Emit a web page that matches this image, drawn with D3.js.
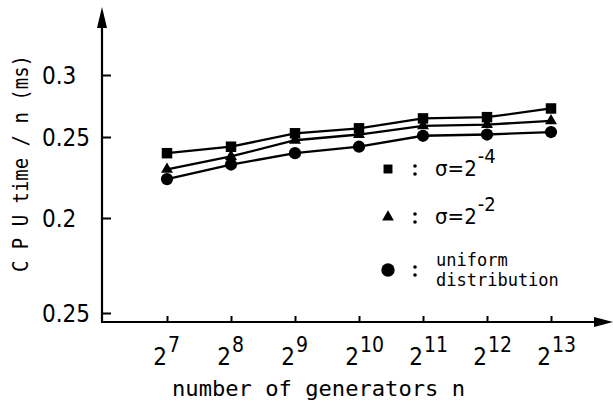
<!DOCTYPE html>
<html>
<head>
<meta charset="utf-8">
<script src="https://cdn.jsdelivr.net/npm/d3@7"></script>
<style>
  body { margin: 0; background: #fff; }
  svg { display: block; }
</style>
</head>
<body>
<svg id="chart" width="613" height="402"></svg>
<script>
// Number of generators n = 2^k
const exponents = [7, 8, 9, 10, 11, 12, 13];

// CPU time per generator (ms)
const sigma4  = [0.240, 0.244, 0.253, 0.257, 0.265, 0.266, 0.273];
const sigma2  = [0.230, 0.238, 0.248, 0.252, 0.259, 0.260, 0.263];
const uniform = [0.224, 0.233, 0.240, 0.244, 0.251, 0.252, 0.254];

// Vertical axis ticks (the lowest one sits at the axis break)
const yTickValues = [0.15, 0.2, 0.25, 0.3];
const yTickLabels = ["0.25", "0.2", "0.25", "0.3"];

// Legend entries
const legendSymbols = ["square", "triangle", "circle"];
const legendBase    = ["σ=2", "σ=2", null];
const legendExp     = ["-4", "-2", null];
const legendLines   = [null, null, ["uniform", "distribution"]];

const svg = d3.select("#chart");
const ink = "#000";
const sansC = "'DejaVu Sans Condensed', 'DejaVu Sans', sans-serif";
const mono = "'DejaVu Sans Mono', 'Liberation Mono', monospace";

const axisX0 = 102, axisY0 = 322;

const x = d3.scaleLog().base(2)
  .domain([2 ** 7, 2 ** 13])
  .range([167, 551]);

const y = d3.scaleLinear()
  .domain(yTickValues)
  .range([313, 218, 137, 75]);

const symbolType = { square: d3.symbolSquare, triangle: d3.symbolTriangle, circle: d3.symbolCircle };
const markSize = { square: 110, triangle: 62, circle: 118 };
const legendSize = { square: 80, triangle: 60, circle: 140 };

// ---- axes ----
const gx = svg.append("g").attr("transform", `translate(0,${axisY0})`)
  .call(d3.axisBottom(x).tickValues(exponents.map(e => 2 ** e)).tickSize(-6).tickFormat(""));
gx.select(".domain").remove();
gx.selectAll(".tick line").attr("stroke", ink).attr("stroke-width", 2);

const gy = svg.append("g").attr("transform", `translate(${axisX0},0)`)
  .call(d3.axisLeft(y).tickValues(yTickValues).tickSize(-9)
    .tickFormat((d, i) => yTickLabels[i]));
gy.select(".domain").remove();
gy.selectAll(".tick line").attr("stroke", ink).attr("stroke-width", 2);
gy.selectAll(".tick text")
  .attr("x", 42 - axisX0)
  .attr("dy", "0.36em")
  .attr("text-anchor", "start")
  .attr("fill", ink)
  .style("font-family", sansC)
  .style("font-size", "24px");

// axis lines with arrowheads
svg.append("line").attr("x1", axisX0).attr("y1", axisY0).attr("x2", axisX0).attr("y2", 20)
  .attr("stroke", ink).attr("stroke-width", 2.2);
svg.append("path").attr("d", `M${axisX0},7 L${axisX0 - 5},28 L${axisX0 + 5},28 Z`).attr("fill", ink);
svg.append("line").attr("x1", axisX0 - 1).attr("y1", axisY0).attr("x2", 600).attr("y2", axisY0)
  .attr("stroke", ink).attr("stroke-width", 2.2);
svg.append("path").attr("d", `M613,${axisY0} L594,${axisY0 - 5} L594,${axisY0 + 5} Z`).attr("fill", ink);

// x tick labels: 2 with a raised exponent
const xl = svg.append("g").selectAll("g").data(exponents).join("g")
  .attr("transform", e => `translate(${x(2 ** e)},365)`);
xl.append("text").attr("text-anchor", "end").attr("fill", ink)
  .style("font-family", sansC).style("font-size", "24px").text("2");
xl.append("text").attr("x", 1).attr("y", -13).attr("text-anchor", "start").attr("fill", ink)
  .style("font-family", sansC).style("font-size", "21px").text(e => e);

// axis titles
svg.append("text")
  .attr("x", 172).attr("y", 396)
  .attr("textLength", 293).attr("lengthAdjust", "spacingAndGlyphs")
  .attr("fill", ink)
  .style("font-family", mono).style("font-size", "21px")
  .text("number of generators  n");

svg.append("text")
  .attr("transform", "translate(28,272) rotate(-90)")
  .attr("textLength", 217).attr("lengthAdjust", "spacingAndGlyphs")
  .attr("fill", ink)
  .style("font-family", mono).style("font-size", "22px")
  .text("C P U time / n (ms)");

// ---- series ----
const series = [
  { values: sigma4, symbol: "square" },
  { values: sigma2, symbol: "triangle" },
  { values: uniform, symbol: "circle" }
];

const line = d3.line().x(d => x(2 ** d.e)).y(d => y(d.v));

series.forEach(s => {
  const pts = exponents.map((e, i) => ({ e, v: s.values[i] }));
  svg.append("path").datum(pts).attr("d", line)
    .attr("fill", "none").attr("stroke", ink).attr("stroke-width", 2.3);
});
series.forEach(s => {
  const pts = exponents.map((e, i) => ({ e, v: s.values[i] }));
  svg.append("g").selectAll("path").data(pts).join("path")
    .attr("transform", d => `translate(${x(2 ** d.e)},${y(d.v)})`)
    .attr("d", d3.symbol().type(symbolType[s.symbol]).size(markSize[s.symbol])())
    .attr("fill", ink);
});

// ---- legend ----
const legendY = [169, 217, 270];
legendSymbols.forEach((sym, i) => {
  const g = svg.append("g").attr("transform", `translate(388,${legendY[i]})`);
  g.append("path")
    .attr("d", d3.symbol().type(symbolType[sym]).size(legendSize[sym])())
    .attr("fill", ink);
  // colon
  g.append("circle").attr("cx", 27).attr("cy", -3).attr("r", 1.8).attr("fill", ink);
  g.append("circle").attr("cx", 27).attr("cy", 5).attr("r", 1.8).attr("fill", ink);

  if (legendBase[i] !== null) {
    const t = g.append("text").attr("x", 47).attr("y", 7).attr("fill", ink)
      .style("font-family", sansC).style("font-size", "22px");
    t.append("tspan").text(legendBase[i]);
    t.append("tspan").attr("dx", 1).attr("dy", -13)
      .style("font-size", "20px").text(legendExp[i]);
  }
  if (legendLines[i] !== null) {
    legendLines[i].forEach((s, k) => {
      g.append("text").attr("x", 48).attr("y", -4 + k * 20).attr("fill", ink)
        .style("font-family", mono).style("font-size", "17px").text(s);
    });
  }
});
</script>
</body>
</html>
